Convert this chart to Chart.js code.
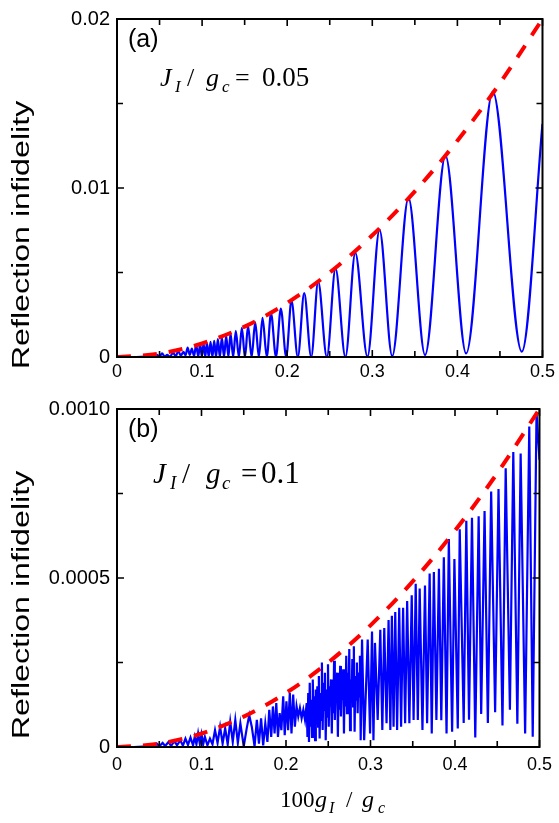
<!DOCTYPE html>
<html><head><meta charset="utf-8">
<script src="https://cdn.jsdelivr.net/npm/chart.js@4.4.0/dist/chart.umd.min.js"></script>
<style>
html,body{margin:0;padding:0;background:#fff;}
#wrap{position:relative;width:559px;height:823px;overflow:hidden;}
canvas{position:absolute;left:0;}
</style></head><body>
<div id="wrap">
<canvas id="ca" width="559" height="390" style="top:0"></canvas>
<canvas id="cb" width="559" height="433" style="top:390px"></canvas>
</div>
<script>
// ---------- data ----------
const xMajor = [0, 0.1, 0.2, 0.3, 0.4, 0.5];
const xLabels = ['0', '0.1', '0.2', '0.3', '0.4', '0.5'];
const xMinor = [0.05, 0.15, 0.25, 0.35, 0.45];
const yMajorA = [0, 0.01, 0.02];
const yLabelsA = ['0', '0.01', '0.02'];
const yMinorA = [0.005, 0.015];
const yMajorB = [0, 0.0005, 0.001];
const yLabelsB = ['0', '0.0005', '0.0010'];
const yMinorB = [0.00025, 0.00075];

const envX  = [0, 0.05, 0.1, 0.15, 0.2, 0.25, 0.3, 0.35, 0.4, 0.45, 0.5];
const envAY = [0, 0.0002, 0.0008, 0.0018, 0.0032, 0.005, 0.0072, 0.0098, 0.0128, 0.0162, 0.02];
const envBY = [0, 0.1e-4, 0.4e-4, 0.9e-4, 1.6e-4, 2.5e-4, 3.6e-4, 4.9e-4, 6.4e-4, 8.1e-4, 10e-4];

const blueAX = [0, 0.02, 0.035, 0.042, 0.047, 0.05, 0.053, 0.056, 0.059, 0.062, 0.066, 0.069, 0.072, 0.075, 0.078, 0.0805,
  0.083, 0.0855, 0.088, 0.0905, 0.093, 0.0955, 0.0977, 0.0997, 0.1017, 0.1037, 0.1056, 0.1078, 0.1099, 0.1121, 0.1142,
  0.1164, 0.1185, 0.1209, 0.1232, 0.1258, 0.1283, 0.1309, 0.1334, 0.1365, 0.1396, 0.1432, 0.1467, 0.1504, 0.154, 0.1582,
  0.1624, 0.1667, 0.171, 0.176, 0.181, 0.1868, 0.1925, 0.1988, 0.205, 0.2125, 0.22, 0.2282, 0.2364, 0.2466, 0.2568,
  0.2684, 0.28, 0.2943, 0.3085, 0.3234, 0.3425, 0.362, 0.386, 0.4103, 0.4416, 0.4757, 0.5];
const blueAY = [0, 0, 0.00002, 0, 0.00012, 0.00002, 0.00021, 0.00003, 0.00012, 0.00002, 0.00025, 0.00005, 0.00035, 0.00008, 0.0003, 0.0001,
  0.00055, 0.00012, 0.0005, 0.00005, 0.0007, 0.00003, 0.00078, 0.00001, 0.0008, 0, 0.00084, 0, 0.0009, 0, 0.00096,
  0, 0.00106, 0, 0.00117, 0, 0.00127, 0, 0.00139, 0, 0.00154, 0, 0.00172, 0, 0.00185, 0,
  0.00205, 0, 0.00232, 0, 0.00259, 0, 0.00287, 0, 0.00333, 0, 0.00378, 0, 0.00446, 0, 0.00524,
  0, 0.00616, 0.00002, 0.00752, 0.00006, 0.00941, 0.00012, 0.01191, 0.00021, 0.01571, 0.00031, 0.0138];

const blueBX = [
  0, 0.02, 0.035, 0.04, 0.043, 0.047, 0.05, 0.054, 0.057, 0.061,
  0.064, 0.068, 0.071, 0.075, 0.078, 0.081, 0.084, 0.087, 0.09, 0.092,
  0.094, 0.096, 0.098, 0.1, 0.102, 0.104, 0.107, 0.11, 0.113, 0.116,
  0.119, 0.122, 0.125, 0.128, 0.131, 0.134, 0.137, 0.14, 0.143, 0.146,
  0.15, 0.1535, 0.1565, 0.1595, 0.1628, 0.1655, 0.168, 0.1705, 0.173, 0.1755,
  0.178, 0.1802, 0.1825, 0.1845, 0.1865, 0.1885, 0.1905, 0.1925, 0.1945, 0.1967,
  0.1985, 0.2005, 0.2025, 0.2045, 0.2065, 0.2085, 0.2105, 0.2125, 0.2145, 0.2165,
  0.2185, 0.2205, 0.2225,
  0.2245, 0.2254, 0.2263, 0.2272, 0.2281, 0.229, 0.2299, 0.2308, 0.2317, 0.2326,
  0.2335, 0.2344, 0.2353, 0.2362, 0.2371, 0.238, 0.2389, 0.2398, 0.2407, 0.2416,
  0.2425, 0.2434, 0.2443, 0.2452, 0.2461, 0.247, 0.2479, 0.2488, 0.2497, 0.2506,
  0.2515, 0.2524, 0.2533, 0.2542, 0.2551, 0.256, 0.2569, 0.2578, 0.2587, 0.2596,
  0.2605, 0.2614, 0.2623, 0.2632, 0.2641, 0.265, 0.2659, 0.2668, 0.2677, 0.2686,
  0.2695, 0.2704, 0.2713, 0.2722, 0.2731, 0.274, 0.2749, 0.2758, 0.2767, 0.2776,
  0.2785, 0.2794, 0.2803, 0.2812, 0.2821, 0.283, 0.2839, 0.2848, 0.2857, 0.2866,
  0.2875, 0.2884,
  0.29, 0.2925, 0.2967, 0.2995, 0.3018, 0.3035, 0.3053, 0.3085, 0.3116, 0.314,
  0.3163, 0.319, 0.3214, 0.3235, 0.3253, 0.3273, 0.3293, 0.3315, 0.334, 0.3362,
  0.3386, 0.341, 0.3434, 0.346, 0.3488, 0.351, 0.3535, 0.356, 0.3582, 0.3615,
  0.3645, 0.367, 0.37, 0.3725, 0.375, 0.378, 0.381, 0.3838, 0.3868, 0.39,
  0.3927, 0.3966, 0.3993, 0.4033, 0.4056, 0.4103, 0.4134, 0.4166, 0.4201, 0.424,
  0.428, 0.431, 0.435, 0.4389, 0.4428, 0.4475, 0.4515, 0.4562, 0.46, 0.465,
  0.469, 0.4738, 0.4777, 0.483, 0.4879, 0.492, 0.4965, 0.5];
const blueBY = [
  0, 0, 0.02e-4, 0.06e-4, 0.01e-4, 0.1e-4, 0.02e-4, 0.12e-4, 0.03e-4, 0.15e-4,
  0.03e-4, 0.18e-4, 0.05e-4, 0.2e-4, 0.04e-4, 0.25e-4, 0.06e-4, 0.28e-4, 0.05e-4, 0.3e-4,
  0.08e-4, 0.4e-4, 0.1e-4, 0.38e-4, 0.08e-4, 0.3e-4, 0.05e-4, 0.25e-4, 0.08e-4, 0.5e-4,
  0.12e-4, 0.6e-4, 0.1e-4, 0.55e-4, 0.08e-4, 0.75e-4, 0.15e-4, 0.8e-4, 0.12e-4, 0.7e-4,
  0.02e-4, 0.55e-4, 0.94e-4, 0.6e-4, 0.02e-4, 0.8e-4, 0.1e-4, 0.85e-4, 0.05e-4, 0.7e-4,
  0.15e-4, 1.1e-4, 0.3e-4, 1.2e-4, 0.4e-4, 1.3e-4, 0.3e-4, 1.0e-4, 0.5e-4, 1.5e-4,
  0.35e-4, 1.35e-4, 0.5e-4, 1.6e-4, 0.4e-4, 1.55e-4, 0.6e-4, 1.2e-4, 0.9e-4, 1.15e-4,
  0.85e-4, 1.1e-4, 0.8e-4,
  1.3e-4, 0.3e-4, 1.6e-4, 0.15e-4, 1.9e-4, 0.6e-4, 1.4e-4, 0.3e-4, 2.0e-4, 0.9e-4,
  1.5e-4, 0.2e-4, 1.7e-4, 1.0e-4, 1.8e-4, 0.6e-4, 2.1e-4, 0.25e-4, 1.6e-4, 0.8e-4,
  2.5e-4, 0.5e-4, 1.9e-4, 1.1e-4, 2.2e-4, 0.2e-4, 1.7e-4, 0.9e-4, 2.45e-4, 0.6e-4,
  1.8e-4, 1.2e-4, 2.0e-4, 0.4e-4, 1.9e-4, 1.0e-4, 2.55e-4, 0.8e-4, 1.7e-4, 1.3e-4,
  2.2e-4, 0.3e-4, 1.9e-4, 1.1e-4, 2.4e-4, 0.9e-4, 2.0e-4, 1.4e-4, 2.3e-4, 0.4e-4,
  2.1e-4, 1.2e-4, 2.7e-4, 1.0e-4, 2.2e-4, 1.5e-4, 2.9e-4, 0.5e-4, 2.0e-4, 1.3e-4,
  2.6e-4, 1.2e-4, 2.98e-4, 0.45e-4, 2.1e-4, 1.4e-4, 2.5e-4, 1.0e-4, 2.2e-4, 1.5e-4,
  2.7e-4, 0.2e-4,
  3.18e-4, 0.2e-4, 3.18e-4, 0.4e-4, 3.42e-4, 0.2e-4, 3.08e-4, 0.8e-4, 3.47e-4, 0.5e-4,
  3.52e-4, 0.7e-4, 3.76e-4, 0.5e-4, 3.88e-4, 0.6e-4, 3.99e-4, 0.5e-4, 4.12e-4, 0.6e-4,
  4.12e-4, 0.7e-4, 4.32e-4, 0.7e-4, 4.49e-4, 0.8e-4, 4.83e-4, 0.8e-4, 4.69e-4, 0.5e-4,
  4.78e-4, 0.7e-4, 5.13e-4, 0.4e-4, 5.18e-4, 0.8e-4, 5.27e-4, 0.79e-4, 5.61e-4, 0.4e-4,
  6.15e-4, 0.45e-4, 5.56e-4, 0.55e-4, 6.44e-4, 0.71e-4, 6.69e-4, 0.81e-4, 6.78e-4, 0.28e-4,
  6.83e-4, 0.98e-4, 6.98e-4, 0.71e-4, 7.56e-4, 1.03e-4, 7.63e-4, 0.64e-4, 8.25e-4, 1.1e-4,
  8.73e-4, 0.69e-4, 8.68e-4, 0.4e-4, 9.48e-4, 0.3e-4, 9.9e-4, 8.5e-4];

// ---------- helpers ----------
const pts = (xs, ys) => xs.map((x, i) => ({ x: x, y: ys[i] }));
const SERIF = '"Liberation Serif"';
const SANS = '"Liberation Sans"';

const deco = {
  id: 'deco',
  afterDraw(chart, args, o) {
    const ctx = chart.ctx, a = chart.chartArea, sx = chart.scales.x, sy = chart.scales.y;
    ctx.save();
    ctx.strokeStyle = '#000';
    ctx.lineWidth = 1.6;
    ctx.beginPath();
    const xt = (vals, len) => vals.forEach(v => {
      const p = sx.getPixelForValue(v);
      ctx.moveTo(p, a.bottom); ctx.lineTo(p, a.bottom - len);
      ctx.moveTo(p, a.top); ctx.lineTo(p, a.top + len);
    });
    const yt = (vals, len) => vals.forEach(v => {
      const p = sy.getPixelForValue(v);
      ctx.moveTo(a.left, p); ctx.lineTo(a.left + len, p);
      ctx.moveTo(a.right, p); ctx.lineTo(a.right - len, p);
    });
    xt(xMajor, 7); xt(xMinor, 6); yt(o.yMajor, 7); yt(o.yMinor, 6);
    ctx.stroke();
    ctx.lineWidth = 2;
    ctx.strokeRect(a.left, a.top, a.right - a.left, a.bottom - a.top);

    ctx.fillStyle = '#000';
    ctx.textAlign = 'left';
    ctx.textBaseline = 'alphabetic';
    ctx.font = '25px ' + SANS;
    ctx.fillText(o.panel, 128, 47);
    o.runs.forEach(r => { ctx.font = r.f; ctx.fillText(r.t, r.x, r.y); });

    ctx.save();
    ctx.translate(23, o.titleY);
    ctx.rotate(-Math.PI / 2);
    ctx.scale(o.stretch, 1);
    ctx.font = '23px ' + SANS;
    ctx.textAlign = 'center';
    ctx.textBaseline = 'middle';
    ctx.fillText('Reflection infidelity', 0, 0);
    ctx.restore();
    ctx.restore();
  }
};

function makeChart(id, cfg) {
  return new Chart(document.getElementById(id), {
    type: 'line',
    data: {
      datasets: [
        { data: pts(envX, cfg.envY), borderColor: '#ff0000', borderWidth: 4, borderDash: [14, 12],
          cubicInterpolationMode: 'monotone', pointRadius: 0, fill: false },
        { data: pts(cfg.bx, cfg.by), borderColor: '#0000ff', borderWidth: 2.2,
          cubicInterpolationMode: cfg.mono ? 'monotone' : 'default', tension: 0, pointRadius: 0, fill: false }
      ]
    },
    options: {
      responsive: false, animation: false, events: [],
      layout: { padding: { left: 0, right: 16, top: 15, bottom: 0 } },
      plugins: { legend: { display: false }, tooltip: { enabled: false }, deco: cfg.deco },
      scales: {
        x: {
          type: 'linear', min: 0, max: 0.5,
          grid: { display: false, drawTicks: false }, border: { display: false },
          afterBuildTicks: s => { s.ticks = xMajor.map(v => ({ value: v })); },
          afterFit: s => { s.height = cfg.xh; },
          ticks: { color: '#000', font: { family: 'Liberation Sans', size: 18 }, padding: cfg.xpad,
                   maxRotation: 0, autoSkip: false, callback: (v, i) => xLabels[i] }
        },
        y: {
          type: 'linear', min: 0, max: cfg.ymax,
          grid: { display: false, drawTicks: false }, border: { display: false },
          afterBuildTicks: s => { s.ticks = cfg.yMajor.map(v => ({ value: v })); },
          afterFit: s => { s.width = 117; },
          ticks: { color: '#000', font: { family: 'Liberation Sans', size: 20 }, padding: 7,
                   autoSkip: false, callback: (v, i) => cfg.yLabels[i] }
        }
      }
    },
    plugins: [deco]
  });
}

makeChart('ca', {
  envY: envAY, bx: blueAX, by: blueAY, mono: true, ymax: 0.02, yMajor: yMajorA, yLabels: yLabelsA,
  xh: 33, xpad: 4,
  deco: {
    panel: '(a)', yMajor: yMajorA, yMinor: yMinorA, titleY: 235, stretch: 1.4,
    runs: [
      { t: 'J', x: 160, y: 86, f: 'italic 26px ' + SERIF },
      { t: 'I', x: 175, y: 92, f: 'italic 17px ' + SERIF },
      { t: '/', x: 187, y: 86, f: '26px ' + SERIF },
      { t: 'g', x: 206, y: 86, f: 'italic 26px ' + SERIF },
      { t: 'c', x: 222, y: 92, f: 'italic 17px ' + SERIF },
      { t: '=', x: 235, y: 86, f: '26px ' + SERIF },
      { t: '0.05', x: 262, y: 86, f: '27px ' + SERIF }
    ]
  }
});

makeChart('cb', {
  envY: envBY, bx: blueBX, by: blueBY, mono: false, ymax: 0.001, yMajor: yMajorB, yLabels: yLabelsB,
  xh: 76, xpad: 7,
  deco: {
    panel: '(b)', yMajor: yMajorB, yMinor: yMinorB, titleY: 215, stretch: 1.4,
    runs: [
      { t: 'J', x: 153, y: 93, f: 'italic 29px ' + SERIF },
      { t: 'I', x: 170, y: 99, f: 'italic 19px ' + SERIF },
      { t: '/', x: 182, y: 93, f: '29px ' + SERIF },
      { t: 'g', x: 206, y: 93, f: 'italic 29px ' + SERIF },
      { t: 'c', x: 222, y: 99, f: 'italic 19px ' + SERIF },
      { t: '=', x: 241, y: 93, f: '29px ' + SERIF },
      { t: '0.1', x: 261, y: 93, f: '31px ' + SERIF },
      { t: '100', x: 280, y: 417, f: '23px ' + SERIF },
      { t: 'g', x: 315, y: 417, f: 'italic 24px ' + SERIF },
      { t: 'I', x: 329, y: 423, f: 'italic 16px ' + SERIF },
      { t: '/', x: 346, y: 417, f: '23px ' + SERIF },
      { t: 'g', x: 362, y: 417, f: 'italic 24px ' + SERIF },
      { t: 'c', x: 378, y: 423, f: 'italic 16px ' + SERIF }
    ]
  }
});
</script>
</body></html>
